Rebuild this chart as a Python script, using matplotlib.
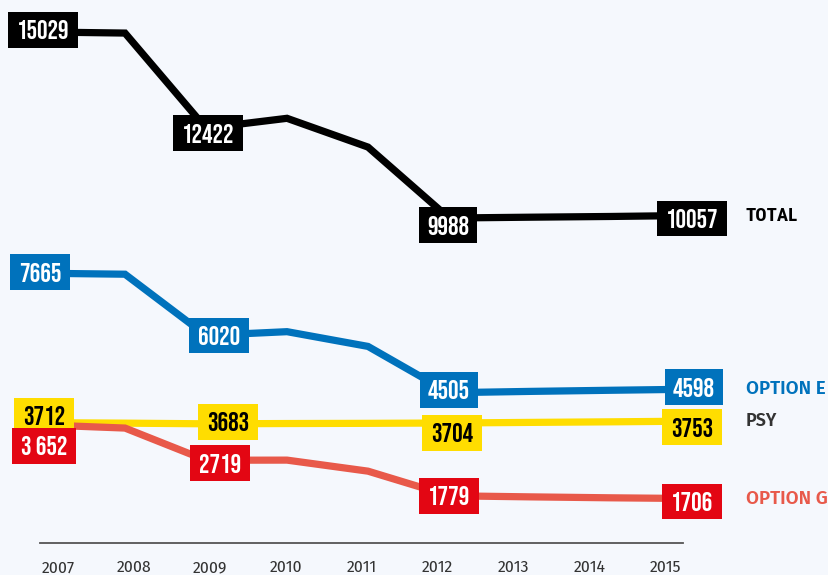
import matplotlib
matplotlib.use("Agg")
import matplotlib.pyplot as plt

years = [2007, 2008, 2009, 2010, 2011, 2012, 2013, 2014, 2015]
total = [15029, 15000, 12422, 12690, 11910, 9988, 10010, 10030, 10057]
option_e = [7665, 7640, 6020, 6120, 5730, 4505, 4540, 4570, 4598]
psy = [3712, 3700, 3683, 3690, 3695, 3704, 3720, 3735, 3753]
option_g = [3652, 3570, 2719, 2722, 2430, 1779, 1750, 1725, 1706]

label_years = [2007, 2009, 2012, 2015]
total_labels = ["15029", "12422", "9988", "10057"]
e_labels = ["7665", "6020", "4505", "4598"]
psy_labels = ["3712", "3683", "3704", "3753"]
g_labels = ["3 652", "2719", "1779", "1706"]
series_names = ["TOTAL", "OPTION E", "PSY", "OPTION G"]

BG = "#f5f8fd"
W, H = 829, 575
fig = plt.figure(figsize=(W / 100, H / 100), dpi=100, facecolor=BG)

x0_px, step_px = 44, 81
xlim = (2007 - x0_px / step_px, 2007 + (W - x0_px) / step_px)

ax = fig.add_axes([0, 0, 1, 1], facecolor=BG)
ax.set_xlim(*xlim)
ax.set_ylim(-317, 14894)
ax.axis("off")

axt = fig.add_axes([0, 0, 1, 1], facecolor="none")
axt.set_xlim(*xlim)
axt.set_ylim(314, 15896)
axt.axis("off")

NUMFONT = dict(family=["Bebas Neue", "Oswald", "Barlow Condensed", "DejaVu Sans"],
               size=19)
NAMEFONT = dict(family=["Fira Sans", "Open Sans", "DejaVu Sans"], weight="semibold", size=13.5)
PSYFONT = dict(family=["Fira Sans", "Open Sans", "DejaVu Sans"], weight="semibold", size=13)
TOTALFONT = dict(family=["Roboto Condensed", "Barlow Condensed", "DejaVu Sans"], weight="bold", size=13.5)

specs = [
    (axt, total, total_labels, "#000000", "#000000", "white",
     [(-1, -2), (2, 5), (-1, 7), (0, 3)], "#000000", 1, TOTALFONT),
    (ax, option_e, e_labels, "#0072bc", "#0072bc", "white",
     [(-4, -1), (13, 0), (0, -3), (2, -2)], "#0072bc", 0, NAMEFONT),
    (ax, psy, psy_labels, "#ffdd00", "#ffdd00", "black",
     [(0, -7), (22, -2), (3, 10), (0, 6)], "#333333", 0, PSYFONT),
    (ax, option_g, g_labels, "#e8594a", "#e30613", "white",
     [(0, 21), (14, 3), (0, 0), (0, 3)], "#e8594a", 0, NAMEFONT),
]

for (a, vals, labs, lc, bc, tc, offs, namec, ndy, nfont), name in zip(specs, series_names):
    a.plot(years, vals, color=lc, lw=5.2, solid_joinstyle="miter", zorder=2)
    for yr, lab, (dx, dy) in zip(label_years, labs, offs):
        v = vals[years.index(yr)]
        a.annotate(lab, xy=(yr, v), xytext=(dx, -dy), textcoords="offset pixels",
                   ha="center", va="center", color=tc, **NUMFONT, zorder=5,
                   bbox=dict(boxstyle="square,pad=0.32", fc=bc, ec="none"))
    a.annotate(name, xy=(years[-1], vals[-1]), xytext=(54, -ndy),
               textcoords="offset pixels", ha="left", va="center",
               color=namec, **nfont, annotation_clip=False)

# bottom axis with year labels
axx = fig.add_axes([40 / W, (H - 543) / H, 643 / W, 0.001], facecolor="none")
pxy = 75.9
axx.set_xlim(2007 - 18 / pxy, 2007 + (643 - 18) / pxy)
axx.set_yticks([])
for s in ["top", "left", "right"]:
    axx.spines[s].set_visible(False)
axx.spines["bottom"].set_color("#555555")
axx.spines["bottom"].set_linewidth(1.3)
axx.set_xticks(years)
axx.set_xticklabels([str(y) for y in years])
axx.tick_params(axis="x", length=0, pad=12, labelsize=12.5, labelcolor="#333333")
for t in axx.get_xticklabels():
    t.set_family(["Fira Sans Condensed", "Open Sans", "DejaVu Sans"])
    t.set_weight("normal")

fig.savefig("out.png", dpi=100, facecolor=BG)
